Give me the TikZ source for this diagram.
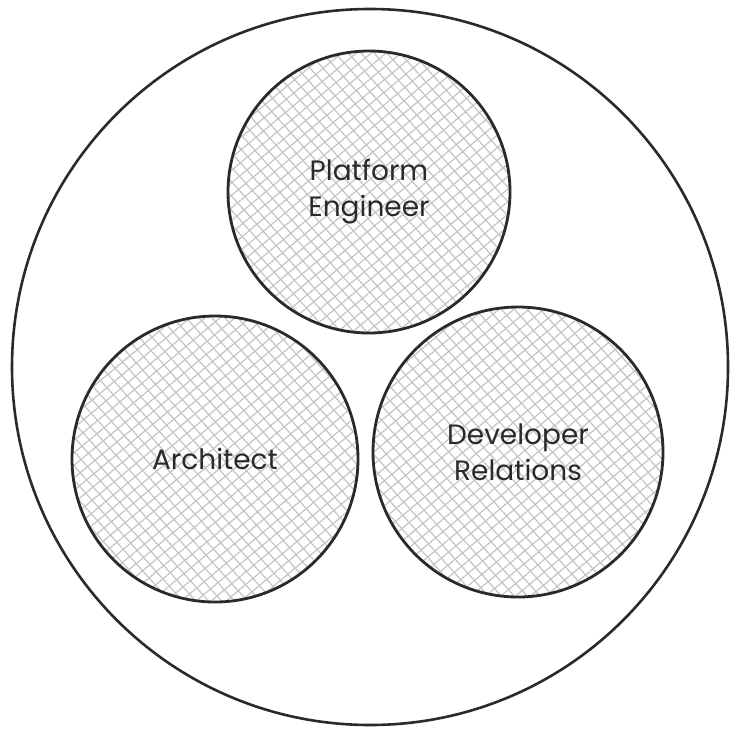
\documentclass[tikz,border=0pt]{standalone}
\usepackage{fontspec}
\setmainfont{Poppins}
\usepackage{tikz}
\usetikzlibrary{patterns.meta, positioning}
\definecolor{ink}{HTML}{2A2A2A}
\definecolor{hatch}{HTML}{C4C4C4}
\tikzset{
  role/.style={circle, draw=ink, line width=1.4pt, align=center,
               text=ink, font=\fontsize{14}{18}\selectfont,
               preaction={pattern={Lines[angle=40, distance=4.8pt, line width=0.6pt]}, pattern color=hatch},
               preaction={pattern={Lines[angle=-48, distance=4.8pt, line width=0.6pt]}, pattern color=hatch}},
  group/.style={circle, draw=ink, line width=1.3pt},
}
\begin{document}
\begin{tikzpicture}[x=0.5pt, y=-0.5pt]
  \useasboundingbox (0,0) rectangle (732,728);
  \node[group, minimum size=358pt] (team) at (370,367) {};

  \node[role, minimum size=141pt] (platform) at (369,192) {Platform\\Engineer};
  \node[role, minimum size=143pt] (architect) at (215,459) {Architect};
  \node[role, minimum size=145pt] (devrel) at (518,452) {Developer\\Relations};
\end{tikzpicture}
\end{document}
